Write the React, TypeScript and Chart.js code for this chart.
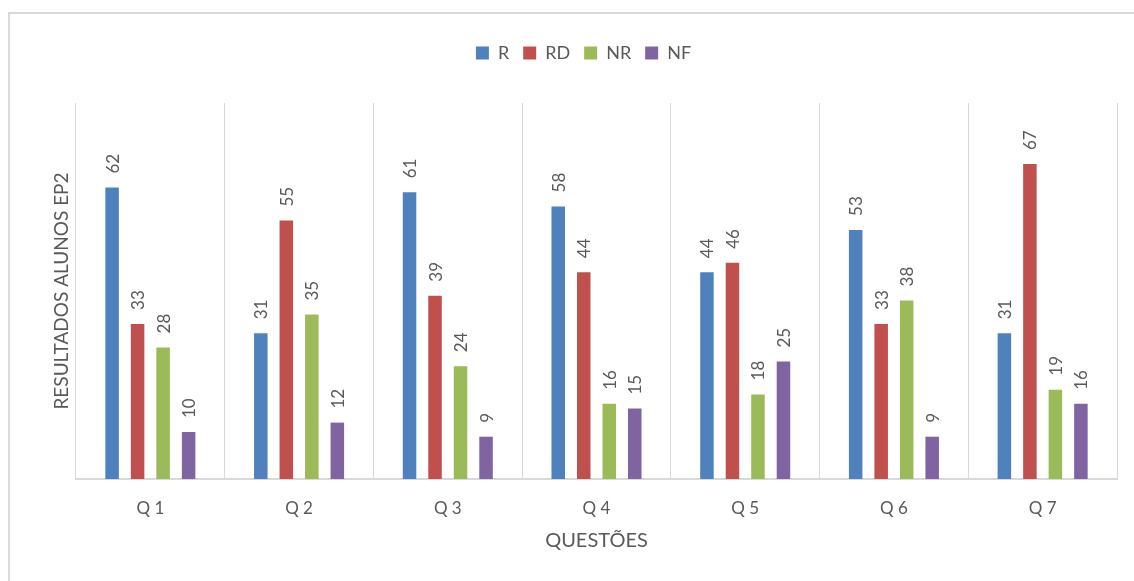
import React, { useEffect, useRef } from "react";
import { Chart, registerables } from "chart.js";

Chart.register(...registerables);

const categories = ["Q 1", "Q 2", "Q 3", "Q 4", "Q 5", "Q 6", "Q 7"];
const seriesR = [62, 31, 61, 58, 44, 53, 31];
const seriesRD = [33, 55, 39, 44, 46, 33, 67];
const seriesNR = [28, 35, 24, 16, 18, 38, 19];
const seriesNF = [10, 12, 9, 15, 25, 9, 16];
const seriesNames = ["R", "RD", "NR", "NF"];
const seriesColors = ["#4f81bd", "#c0504d", "#9bbb59", "#8064a2"];
const yTitle = "RESULTADOS ALUNOS EP2";
const xTitle = "QUESTÕES";

const FONT = "Lato";
const TEXT = "#595959";

const borderPlugin = {
  id: "outerBorder",
  beforeDraw(chart: any) {
    const ctx = chart.ctx;
    ctx.save();
    ctx.fillStyle = "#ffffff";
    ctx.fillRect(0, 0, chart.width, chart.height);
    ctx.strokeStyle = "#d9d9d9";
    ctx.lineWidth = 2;
    ctx.strokeRect(9, 13, chart.width + 50, chart.height + 50);
    ctx.restore();
  },
};

const legendSpace = {
  id: "legendSpace",
  afterInit(chart: any) {
    const legend = chart.legend;
    if (!legend) return;
    const origFit = legend.fit;
    legend.fit = function () {
      origFit.call(this);
      this.height = 73;
    };
  },
};

const valueLabels = {
  id: "valueLabels",
  afterDatasetsDraw(chart: any) {
    const ctx = chart.ctx;
    ctx.save();
    ctx.fillStyle = TEXT;
    ctx.font = `17px ${FONT}`;
    ctx.textAlign = "left";
    ctx.textBaseline = "middle";
    chart.data.datasets.forEach((ds: any, i: number) => {
      const meta = chart.getDatasetMeta(i);
      meta.data.forEach((el: any, j: number) => {
        const v = ds.data[j];
        ctx.save();
        ctx.translate(el.x + 1, el.y - 14);
        ctx.rotate(-Math.PI / 2);
        ctx.fillText(String(v), 0, 0);
        ctx.restore();
      });
    });
    ctx.restore();
  },
};

export default function App() {
  const ref = useRef<HTMLCanvasElement | null>(null);

  useEffect(() => {
    if (!ref.current) return;
    const allSeries = [seriesR, seriesRD, seriesNR, seriesNF];
    const chart = new Chart(ref.current, {
      type: "bar",
      data: {
        labels: categories,
        datasets: allSeries.map((d, i) => ({
          label: seriesNames[i],
          data: d,
          backgroundColor: seriesColors[i],
          borderWidth: 0,
          categoryPercentage: 0.686,
          barPercentage: 0.53,
        })),
      },
      options: {
        responsive: false,
        animation: false,
        layout: { padding: { top: 30, left: 50, right: 17, bottom: 28 } },
        plugins: {
          legend: {
            position: "top",
            labels: {
              color: TEXT,
              font: { family: FONT, size: 18 },
              boxWidth: 13,
              boxHeight: 13,
              padding: 14,
            },
          },
          tooltip: { enabled: false },
        },
        scales: {
          x: {
            grid: { color: "#d9d9d9", lineWidth: 1, drawTicks: false, offset: true },
            border: { color: "#d9d9d9", width: 2 },
            ticks: { color: TEXT, font: { family: FONT, size: 17 }, padding: 19 },
            title: {
              display: true,
              text: xTitle,
              color: TEXT,
              font: { family: FONT, size: 20 },
              padding: { top: 0, bottom: 0 },
            },
            afterFit(scale: any) {
              scale.height = 74;
            },
          },
          y: {
            min: 0,
            max: 80,
            grid: { display: false },
            border: { display: false },
            ticks: { display: false },
            title: {
              display: true,
              text: yTitle,
              color: TEXT,
              font: { family: FONT, size: 19 },
              padding: { top: 0, bottom: 0 },
            },
            afterFit(scale: any) {
              scale.width = 26;
            },
          },
        },
      },
      plugins: [borderPlugin, legendSpace, valueLabels],
    });
    return () => chart.destroy();
  }, []);

  return (
    <div style={{ position: "fixed", left: 0, top: 0, width: 1134, height: 581, background: "#fff" }}>
      <canvas ref={ref} width={1134} height={581} />
    </div>
  );
}
